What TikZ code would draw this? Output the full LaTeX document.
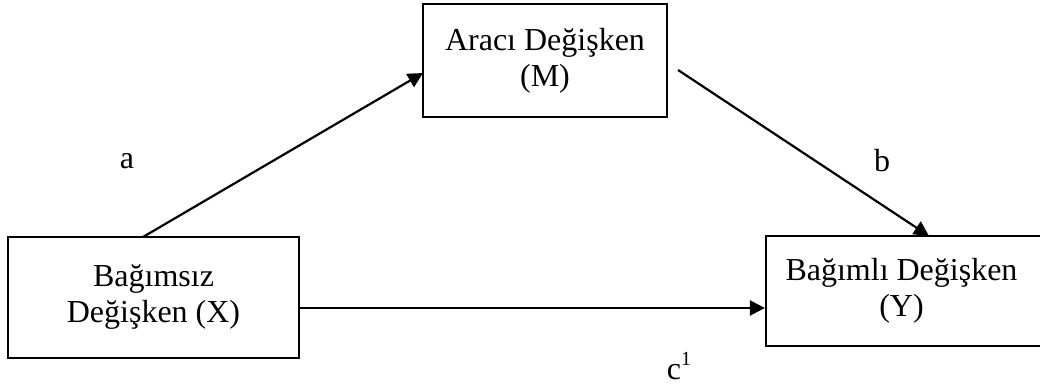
\documentclass[tikz,border=0pt]{standalone}
\usepackage{fontspec}
\setmainfont{Liberation Serif}
\usetikzlibrary{arrows.meta}
\begin{document}
\begin{tikzpicture}[x=1pt,y=-1pt,
  box/.style={draw,line width=2.2pt,rectangle,align=center,inner sep=0pt,
    font=\fontsize{32}{36}\selectfont},
  conn/.style={line width=2.2pt,-{Triangle[length=15pt,width=15pt]}},
  lab/.style={font=\fontsize{32}{36}\selectfont,inner sep=0pt}]
\useasboundingbox (0,0) rectangle (1040,387);
\node[box,minimum width=291pt,minimum height=121pt] (X) at (153.5,297.5) {Bağımsız\\Değişken (X)};
\node[box,minimum width=244pt,minimum height=113pt] (M) at (545,60.5) {Aracı Değişken\\(M)};
\node[box,minimum width=279pt,minimum height=110pt] (Y) at (905.5,291) {\hspace*{-8pt}Bağımlı Değişken\\\hspace*{-8pt}(Y)};
\coordinate (aS) at (143,237);
\coordinate (aE) at (423,73);
\coordinate (bS) at (678,70);
\coordinate (bE) at (929,236);
\draw[conn] (aS) -- (aE);
\draw[conn] (bS) -- (bE);
\draw[conn] (X.east |- 0,308) -- (Y.west |- 0,308);
\node[lab] (la) at (127,161) {a};
\node[lab] (lb) at (882,161) {b};
\node[lab] (lc) at (679,366) {c\raisebox{0.45em}{\fontsize{20}{20}\selectfont 1}};
\end{tikzpicture}
\end{document}
